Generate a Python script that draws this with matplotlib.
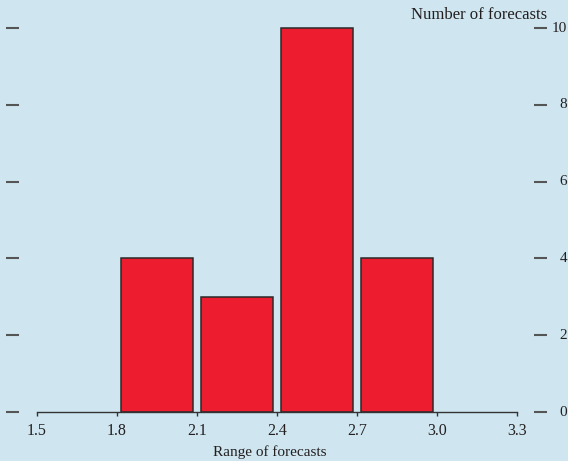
import matplotlib
matplotlib.use("Agg")
import matplotlib.pyplot as plt
from matplotlib.transforms import blended_transform_factory

# Forecast distribution
bin_centers = [1.95, 2.25, 2.55, 2.85]
counts = [4, 3, 10, 4]
bar_width = 0.27

x_ticks = [1.5, 1.8, 2.1, 2.4, 2.7, 3.0, 3.3]
x_tick_labels = ["1.5", "1.8", "2.1", "2.4", "2.7", "3.0", "3.3"]
y_ticks = [0, 2, 4, 6, 8, 10]
y_tick_labels = ["0", "2", "4", "6", "8", "10"]

bg = "#cfe6f0"
bar_color = "#ed1c2e"
text_color = "#231f20"

plt.rcParams["font.family"] = ["Liberation Serif", "DejaVu Serif"]

W, H = 568, 461
fig = plt.figure(figsize=(W / 100, H / 100), dpi=100, facecolor=bg)

# axes box in pixel coordinates
left_px, right_px, top_px, bottom_px = 19, 534, 0, 412
ax = fig.add_axes([left_px / W, 1 - bottom_px / H,
                   (right_px - left_px) / W, (bottom_px - top_px) / H])
ax.set_facecolor(bg)

px_per_x = 80 / 0.3
ax.set_xlim(1.5 - (37 - left_px) / px_per_x, 3.3 + (right_px - 517) / px_per_x)
px_per_y = (412 - 28) / 10
ax.set_ylim(0, 10 + 28 / px_per_y)

ax.bar(bin_centers, counts, width=bar_width, color=bar_color,
       edgecolor="#2a2a2a", linewidth=1.1, zorder=2)

for s in ["left", "right", "top"]:
    ax.spines[s].set_visible(False)
ax.spines["bottom"].set_bounds(1.5, 3.3)
ax.spines["bottom"].set_color("#333333")
ax.spines["bottom"].set_linewidth(1.0)
ax.spines["bottom"].set_zorder(3)

ax.set_xticks(x_ticks)
ax.set_xticklabels(x_tick_labels)
ax.tick_params(axis="x", direction="out", length=3, width=1.0, color="#333333",
               labelsize=11.5, labelcolor=text_color, pad=5)

ax.set_yticks(y_ticks)
ax.tick_params(axis="y", which="both", left=True, right=True,
               labelleft=False, labelright=False, direction="out",
               length=9.4, width=1.5, color="#555555")

# right-hand value labels, right-aligned just inside the figure edge
trans = blended_transform_factory(fig.transFigure, ax.transData)
for v, lab in zip(y_ticks, y_tick_labels):
    fig.text(567 / W, v, lab, transform=trans, ha="right", va="center",
             fontsize=11, color=text_color)

fig.text(270 / W, 1 - 452 / H, "Range of forecasts", ha="center", va="center",
         fontsize=11, color=text_color)
fig.text(547 / W, 1 - 15 / H, "Number of forecasts", ha="right", va="center",
         fontsize=12, color=text_color)

fig.savefig("out.png", dpi=100, facecolor=bg)
